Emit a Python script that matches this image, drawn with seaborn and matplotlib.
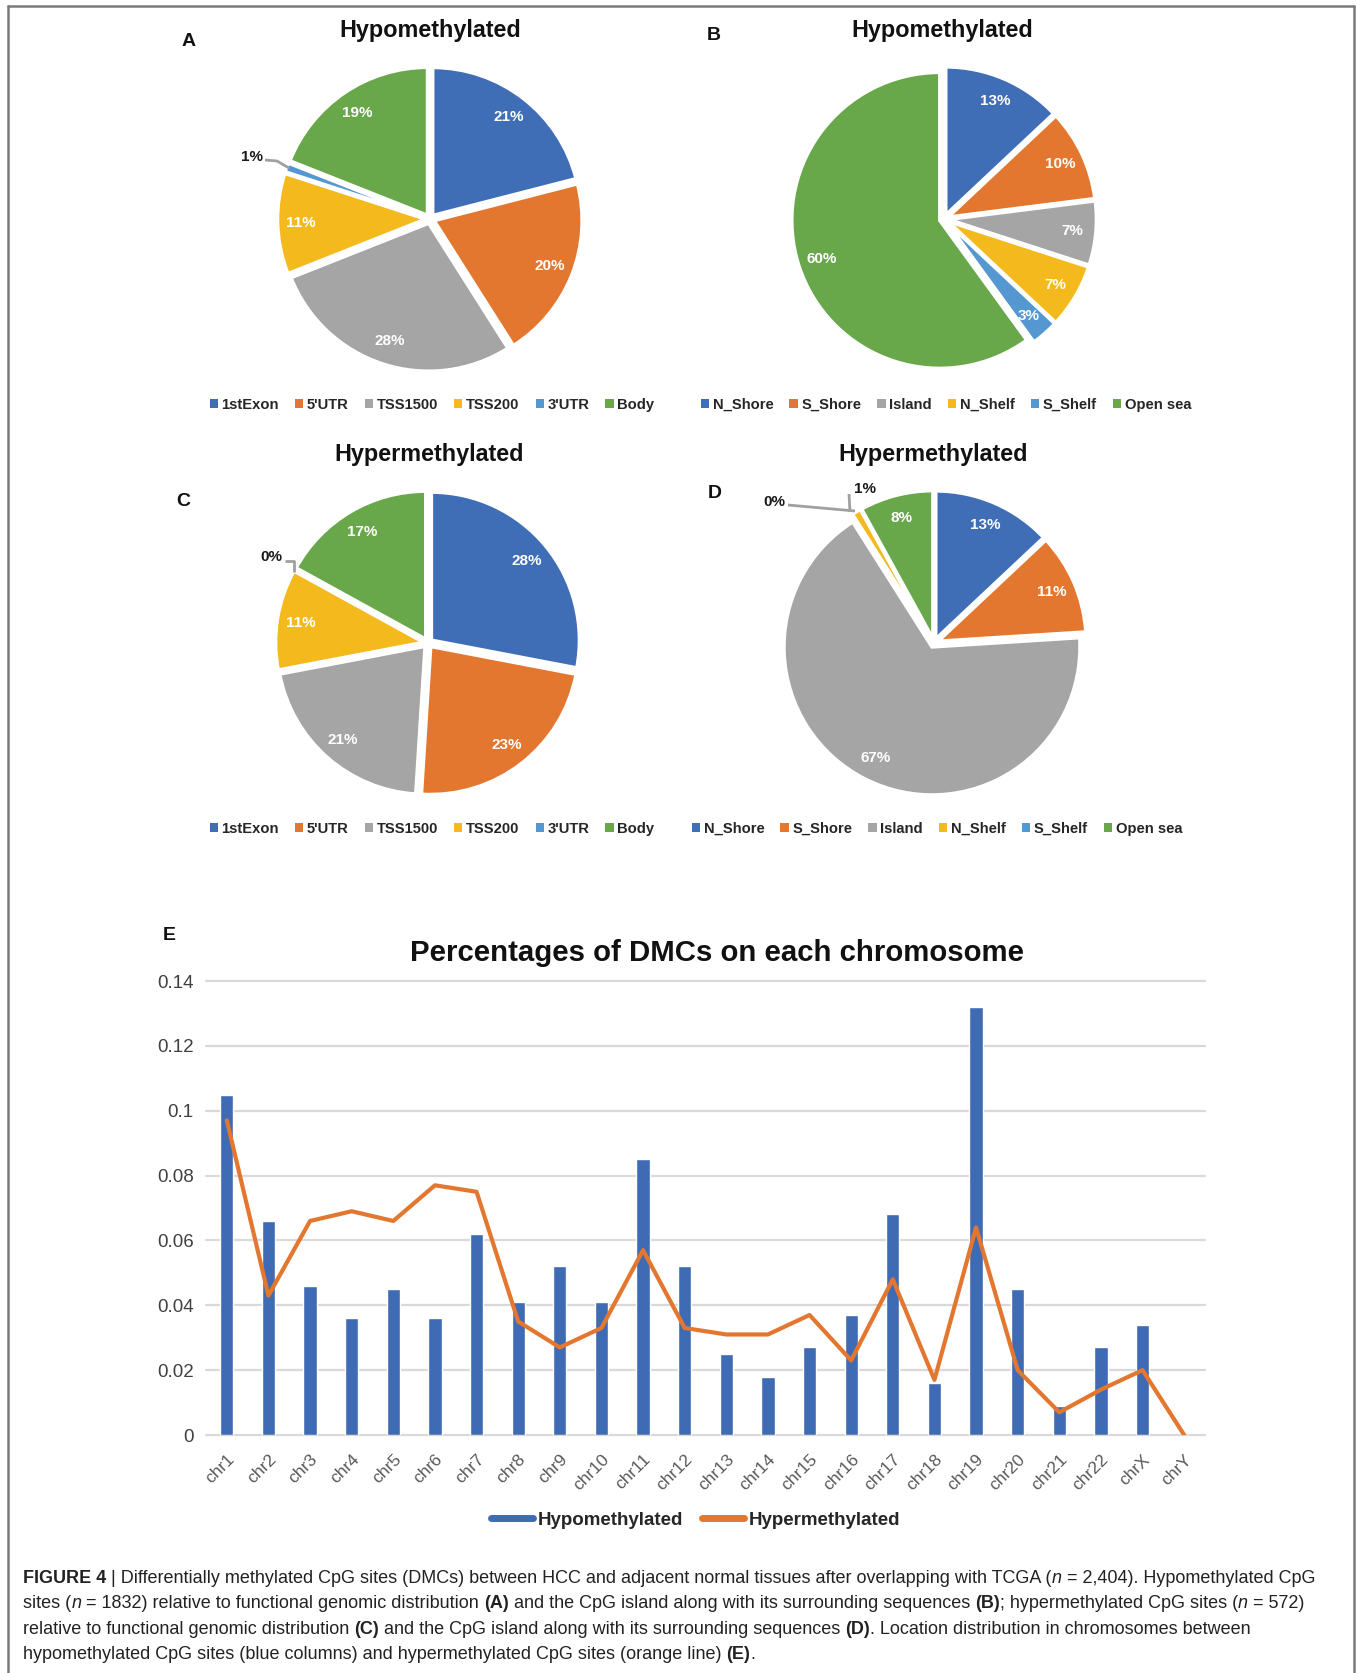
import numpy as np
import pandas as pd
import matplotlib
matplotlib.use("Agg")
import matplotlib.pyplot as plt
from matplotlib.lines import Line2D
from matplotlib.patches import Patch
import seaborn as sns

# ---------------------------------------------------------------- data
region_labels = ["1stExon", "5'UTR", "TSS1500", "TSS200", "3'UTR", "Body"]
hypo_region_pct = [21, 20, 28, 11, 1, 19]
hyper_region_pct = [28, 23, 21, 11, 0, 17]

island_labels = ["N_Shore", "S_Shore", "Island", "N_Shelf", "S_Shelf", "Open sea"]
hypo_island_pct = [13, 10, 7, 7, 3, 60]
hyper_island_pct = [13, 11, 67, 1, 0, 8]

chromosomes = ["chr1", "chr2", "chr3", "chr4", "chr5", "chr6", "chr7", "chr8",
               "chr9", "chr10", "chr11", "chr12", "chr13", "chr14", "chr15",
               "chr16", "chr17", "chr18", "chr19", "chr20", "chr21", "chr22",
               "chrX", "chrY"]
hypo_chr = [0.105, 0.066, 0.046, 0.036, 0.045, 0.036, 0.062, 0.041, 0.052,
            0.041, 0.085, 0.052, 0.025, 0.018, 0.027, 0.037, 0.068, 0.016,
            0.132, 0.045, 0.009, 0.027, 0.034, 0.0]
hyper_chr = [0.097, 0.043, 0.066, 0.069, 0.066, 0.077, 0.075, 0.035, 0.027,
             0.033, 0.057, 0.033, 0.031, 0.031, 0.037, 0.023, 0.048, 0.017,
             0.064, 0.020, 0.007, 0.014, 0.020, 0.0]

y_ticks = [0, 0.02, 0.04, 0.06, 0.08, 0.1, 0.12, 0.14]
y_tick_labels = ["0", "0.02", "0.04", "0.06", "0.08", "0.1", "0.12", "0.14"]

# ---------------------------------------------------------------- style
sns.set_theme(style="white")
plt.rcParams["font.family"] = ["Liberation Sans", "DejaVu Sans"]

W, H, DPI = 1357, 1673, 100
fig = plt.figure(figsize=(W / DPI, H / DPI), dpi=DPI)
fig.patch.set_facecolor("white")

pie_colors = ["#3F6EB7", "#E3772F", "#A5A5A5", "#F4B91C", "#5597D1", "#69A74B"]
bar_blue = "#3F6BB4"
line_orange = "#E3772F"
leader_gray = "#A0A0A0"
R_PX = 148  # pie radius in pixels


def fx(px):
    return px / W


def fy(py):
    return 1 - py / H


def draw_pie(cx, cy, values, outside):
    half = 200
    ax = fig.add_axes([fx(cx - half), fy(cy + half), 2 * half / W, 2 * half / H])
    wedges, _ = ax.pie(values, colors=pie_colors, startangle=90,
                       counterclock=False, explode=[0.03] * len(values),
                       wedgeprops=dict(edgecolor="white", linewidth=2.5))
    lim = half / R_PX
    ax.set_xlim(-lim, lim)
    ax.set_ylim(-lim, lim)
    ax.set_aspect("equal")
    ax.axis("off")
    for i, (w, v) in enumerate(zip(wedges, values)):
        if i in outside:
            continue
        th = np.deg2rad((w.theta1 + w.theta2) / 2)
        x0, y0 = w.center
        ax.text(x0 + 0.84 * np.cos(th), y0 + 0.84 * np.sin(th), f"{v}%",
                color="white", fontsize=11, fontweight="bold",
                ha="center", va="center")
    return ax


def to_data(cx, cy, px, py):
    return (px - cx) / R_PX, (cy - py) / R_PX


def outside_label(ax, cx, cy, text, pos, path):
    x, y = to_data(cx, cy, *pos)
    ax.text(x, y, text, fontsize=11, fontweight="bold", color="#1a1a1a",
            ha="center", va="center", clip_on=False)
    pts = np.array([to_data(cx, cy, px, py) for px, py in path])
    ax.plot(pts[:, 0], pts[:, 1], color=leader_gray, lw=2, clip_on=False,
            solid_capstyle="butt")


def pie_legend(labels, cx, cy):
    handles = [Patch(facecolor=c, edgecolor="none") for c in pie_colors]
    fig.legend(handles, labels, loc="center", bbox_to_anchor=(fx(cx), fy(cy)),
               ncol=len(labels), frameon=False,
               prop=dict(weight="bold", size=10.6),
               handlelength=0.55, handleheight=0.55, handletextpad=0.25,
               columnspacing=1.1, borderpad=0)


def title(x, y, text):
    fig.text(fx(x), fy(y), text, fontsize=16.8, fontweight="bold",
             ha="center", va="center", color="#111111")


def panel(x, y, text):
    fig.text(fx(x), fy(y), text, fontsize=14, fontweight="bold",
             ha="center", va="center", color="#111111")


# ---------------------------------------------------------------- pies
cA = (430, 219)
axA = draw_pie(*cA, hypo_region_pct, outside={4})
outside_label(axA, *cA, "1%", (252, 157), [(265, 160), (277, 161), (289, 168)])
title(430, 31, "Hypomethylated")
panel(189, 41, "A")
pie_legend(region_labels, 432, 405)

cB = (944, 219)
draw_pie(*cB, hypo_island_pct, outside=set())
title(942, 31, "Hypomethylated")
panel(714, 35, "B")
pie_legend(island_labels, 946, 405)

cC = (428, 643)
axC = draw_pie(*cC, hyper_region_pct, outside={4})
outside_label(axC, *cC, "0%", (271, 557), [(285, 561), (294, 561), (294, 572)])
title(429, 455, "Hypermethylated")
panel(183, 502, "C")
pie_legend(region_labels, 432, 829)

cD = (934, 643)
axD = draw_pie(*cD, hyper_island_pct, outside={3, 4})
outside_label(axD, *cD, "0%", (774, 502), [(788, 505), (855, 511)])
outside_label(axD, *cD, "1%", (865, 489), [(849, 494), (850, 512)])
title(933, 455, "Hypermethylated")
panel(715, 494, "D")
pie_legend(island_labels, 937, 829)

# ---------------------------------------------------------------- bars + line
x0, x1, y0, y1 = 206, 1205, 981, 1435
axE = fig.add_axes([fx(x0), fy(y1), (x1 - x0) / W, (y1 - y0) / H])
df = pd.DataFrame({"chrom": chromosomes, "hypo": hypo_chr, "hyper": hyper_chr})
sns.barplot(data=df, x="chrom", y="hypo", color=bar_blue, saturation=1,
            width=0.32, ax=axE, zorder=3)
sns.lineplot(x=np.arange(len(chromosomes)), y=df["hyper"], color=line_orange,
             lw=3, ax=axE, zorder=4)
axE.set_xlim(-0.5, len(chromosomes) - 0.5)
axE.set_ylim(0, 0.14)
axE.set_yticks(y_ticks)
axE.set_yticklabels(y_tick_labels)
axE.set_xticks(range(len(chromosomes)))
axE.set_xticklabels(chromosomes, rotation=45, ha="right",
                    rotation_mode="anchor")
axE.tick_params(axis="y", length=0, pad=9, labelsize=13.5, labelcolor="#404040")
axE.tick_params(axis="x", length=0, pad=12, labelsize=12.5, labelcolor="#595959")
axE.set_xlabel("")
axE.set_ylabel("")
for s in axE.spines.values():
    s.set_visible(False)
for t in y_ticks:
    axE.axhline(t, color="#D9D9D9", lw=1.6, zorder=1, clip_on=False)

fig.text(fx(717), fy(953), "Percentages of DMCs on each chromosome",
         fontsize=21.2, fontweight="bold", ha="center", va="center",
         color="#111111")
panel(169, 935, "E")

leg_handles = [Line2D([0], [0], color=bar_blue, lw=5, solid_capstyle="round"),
               Line2D([0], [0], color=line_orange, lw=5, solid_capstyle="round")]
fig.legend(leg_handles, ["Hypomethylated", "Hypermethylated"], loc="center",
           bbox_to_anchor=(fx(696), fy(1520)), ncol=2, frameon=False,
           prop=dict(weight="bold", size=13.5), handlelength=2.2,
           handletextpad=0.3, columnspacing=1.0, borderpad=0)

# ---------------------------------------------------------------- frame
for (xa, ya, xb, yb) in [(8, 6, 1354, 6), (8, 6, 8, H), (1354, 6, 1354, H)]:
    fig.add_artist(Line2D([fx(xa), fx(xb)], [fy(ya), fy(yb)],
                          color="#7a7a7a", lw=1.8))

# ---------------------------------------------------------------- caption
cap_size = 13.0
cap_color = "#222222"
space_px = 0.278 * cap_size * DPI / 72
renderer = fig.canvas.get_renderer()

caption_lines = [
    [("FIGURE 4", "b"),
     (" | Differentially methylated CpG sites (DMCs) between HCC and adjacent "
      "normal tissues after overlapping with TCGA (", "r"),
     ("n", "i"), (" = 2,404). Hypomethylated CpG", "r")],
    [("sites (", "r"), ("n", "i"),
     (" = 1832) relative to functional genomic distribution ", "r"),
     ("(A)", "b"),
     (" and the CpG island along with its surrounding sequences ", "r"),
     ("(B)", "b"), ("; hypermethylated CpG sites (", "r"), ("n", "i"),
     (" = 572)", "r")],
    [("relative to functional genomic distribution ", "r"), ("(C)", "b"),
     (" and the CpG island along with its surrounding sequences ", "r"),
     ("(D)", "b"),
     (". Location distribution in chromosomes between", "r")],
    [("hypomethylated CpG sites (blue columns) and hypermethylated CpG sites "
      "(orange line) ", "r"), ("(E)", "b"), (".", "r")],
]
baselines = [1583, 1608, 1634, 1659]

for segs, base in zip(caption_lines, baselines):
    x = 23.0
    for text, style in segs:
        lead = len(text) - len(text.lstrip(" "))
        trail = len(text) - len(text.rstrip(" "))
        x += lead * space_px
        core = text.strip(" ")
        kw = dict(fontsize=cap_size, color=cap_color, ha="left", va="baseline")
        if style == "b":
            kw["fontweight"] = "bold"
        elif style == "i":
            kw["fontstyle"] = "italic"
        t = fig.text(fx(x), fy(base), core, **kw)
        x += t.get_window_extent(renderer).width
        x += trail * space_px

fig.savefig("out.png", dpi=DPI, facecolor="white")
